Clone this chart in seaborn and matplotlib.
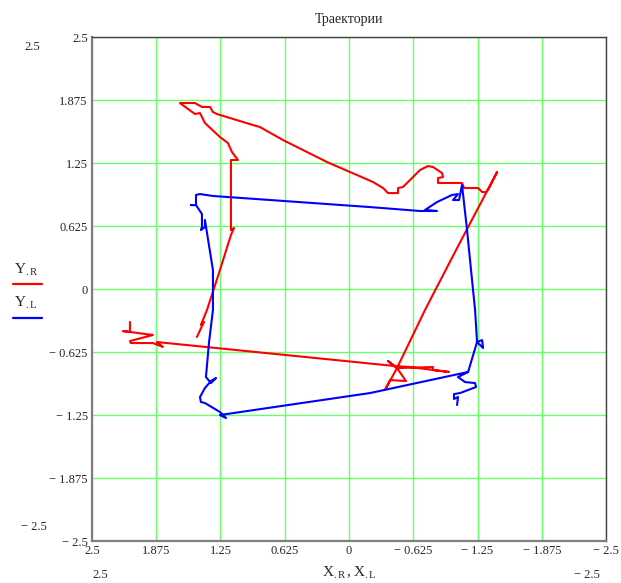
import numpy as np
import pandas as pd
import matplotlib
matplotlib.use("Agg")
import matplotlib.pyplot as plt
import seaborn as sns

# Trajectory of the right point (Y.R vs X.R)
x_r = [1.479, 1.411, 1.440, 1.381, 1.255, 1.148, 1.119, 1.148, 1.148, 1.080,
       1.138, 1.177, 1.255, 1.401, 1.449, 1.498, 1.644, 1.498, 1.430, 1.352,
       1.323, 1.284, 0.934, 0.866, 0.642, 0.214, -0.010, -0.233, -0.331, -0.379,
       -0.477, -0.477, -0.525, -0.691, -0.768, -0.817, -0.905, -0.914, -0.866, -0.866,
       -1.099, -1.119, -1.255, -1.294, -1.333, -1.362, -1.440, -1.041, -0.739, -0.467,
       -0.350, -0.399, -0.554, -0.467, -0.379, -0.467, -0.817, -0.817, -0.973, -0.593,
       -0.447, 1.868, 1.809, 1.907, 2.121, 2.130, 1.907, 2.198, 2.130, 2.130]
y_r = [-0.476, -0.327, -0.357, -0.208, 0.188, 0.536, 0.605, 0.585, 1.280, 1.280,
       1.359, 1.448, 1.508, 1.647, 1.746, 1.736, 1.845, 1.845, 1.806, 1.806,
       1.756, 1.736, 1.627, 1.607, 1.478, 1.260, 1.161, 1.062, 1.002, 0.952,
       0.952, 1.002, 1.012, 1.181, 1.220, 1.210, 1.151, 1.111, 1.101, 1.052,
       1.052, 1.002, 1.002, 0.962, 0.962, 1.002, 1.161, 0.387, -0.208, -0.784,
       -1.002, -0.903, -0.913, -0.784, -0.714, -0.784, -0.774, -0.804, -0.823, -0.774,
       -0.764, -0.526, -0.575, -0.536, -0.536, -0.516, -0.456, -0.417, -0.427, -0.327]

# Trajectory of the left point (Y.L vs X.L)
x_l = [-1.051, -1.060, -1.021, -1.021, -1.080, -1.235, -1.226, -1.128, -1.060, -1.158,
       -1.245, -1.304, -1.294, -1.245, -1.226, -1.167, -1.148, -1.099, -1.070, -1.012,
       -1.060, -1.002, -0.856, -0.739, -0.856, -0.691, -0.204, 1.323, 1.449, 1.488,
       1.488, 1.537, 1.488, 1.430, 1.430, 1.440, 1.401, 1.401, 1.323, 1.323,
       1.362, 1.391, 1.342, 1.294, 1.342, 1.401, 1.449, 1.440, 1.401, 1.255,
       1.196, 1.255, -0.204, -1.158]
y_l = [-1.151, -1.071, -1.091, -1.042, -1.032, -0.972, -0.933, -0.923, -0.873, -0.823,
       -0.526, -0.585, -0.506, -0.526, -0.208, 0.387, 0.585, 1.032, 0.883, 0.883,
       0.942, 0.933, 0.863, 0.784, 0.774, 0.774, 0.813, 0.923, 0.942, 0.933,
       0.833, 0.833, 0.833, 0.744, 0.615, 0.585, 0.615, 0.685, 0.188, -0.208,
       -0.536, -0.873, -0.933, -0.883, -0.913, -0.982, -1.071, -1.121, -1.131, -1.220,
       -1.280, -1.250, -1.032, -0.823]

ticks = [2.5, 1.875, 1.25, 0.625, 0, -0.625, -1.25, -1.875, -2.5]
tick_labels = ["2.5", "1.875", "1.25", "0.625", "0",
               "\u2212 0.625", "\u2212 1.25", "\u2212 1.875", "\u2212 2.5"]

sns.set_style("white")
plt.rcParams["font.family"] = ["Liberation Serif", "DejaVu Serif"]
plt.rcParams["mathtext.fontset"] = "custom"
plt.rcParams["mathtext.rm"] = "Liberation Serif"
plt.rcParams["mathtext.it"] = "Liberation Serif"

df_r = pd.DataFrame({"x": x_r, "y": y_r, "step": np.arange(len(x_r))})
df_l = pd.DataFrame({"x": x_l, "y": y_l, "step": np.arange(len(x_l))})

fig = plt.figure(figsize=(6.21, 5.83), dpi=100)
ax = fig.add_axes([0.148, 0.072, 0.828, 0.8645])

sns.lineplot(data=df_r, x="x", y="y", sort=False, estimator=None,
             color="#ff0000", linewidth=1.5, ax=ax, zorder=3)
sns.lineplot(data=df_l, x="x", y="y", sort=False, estimator=None,
             color="#0000ff", linewidth=1.5, ax=ax, zorder=4)

ax.set_xlim(2.5, -2.5)
ax.set_ylim(-2.5, 2.5)
ax.set_xticks(ticks)
ax.set_yticks(ticks)
ax.set_xticklabels(tick_labels, fontsize=9)
ax.set_yticklabels(tick_labels, fontsize=9)
ax.tick_params(length=0, pad=3)
ax.set_xlabel("")
ax.set_ylabel("")
ax.grid(True, color="#66ff66", linewidth=1.0)
ax.set_axisbelow(True)

for side in ("top", "right"):
    ax.spines[side].set_color("#404040")
    ax.spines[side].set_linewidth(1.0)
for side in ("left", "bottom"):
    ax.spines[side].set_color("#7f7f7f")
    ax.spines[side].set_linewidth(1.6)

ax.set_title("Траектории", fontsize=10, pad=10)

# Axis range labels and legend
fig.text(32 / 621, 1 - 47 / 583, "2.5", fontsize=9, ha="center", va="center")
fig.text(34 / 621, 1 - 527 / 583, "\u2212 2.5", fontsize=9, ha="center", va="center")
fig.text(100 / 621, 1 - 575 / 583, "2.5", fontsize=9, ha="center", va="center")
fig.text(587 / 621, 1 - 575 / 583, "\u2212 2.5", fontsize=9, ha="center", va="center")
fig.text(349 / 621, 1 - 573 / 583, r"$\mathrm{X_{.R}\,,X_{.L}}$", fontsize=11,
         ha="center", va="center")

fig.text(14 / 621, 1 - 270 / 583, r"$\mathrm{Y_{.R}}$", fontsize=11, ha="left", va="center")
fig.text(14 / 621, 1 - 303 / 583, r"$\mathrm{Y_{.L}}$", fontsize=11, ha="left", va="center")
fig.add_artist(plt.Line2D([13 / 621, 42 / 621], [1 - 284 / 583, 1 - 284 / 583],
                          color="#ff0000", linewidth=1.6))
fig.add_artist(plt.Line2D([13 / 621, 42 / 621], [1 - 318 / 583, 1 - 318 / 583],
                          color="#0000ff", linewidth=1.6))

fig.savefig("out.png", dpi=100)
